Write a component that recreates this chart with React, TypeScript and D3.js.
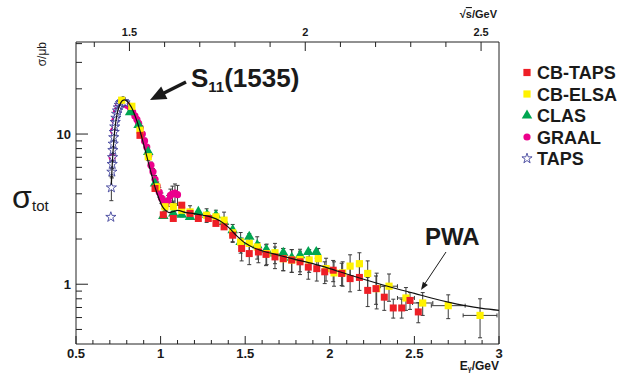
import React from "react";
import * as d3 from "d3";

// ---------------- data ----------------
// PWA curve
const pwaE = [0.709, 0.712, 0.716, 0.72, 0.726, 0.733, 0.742, 0.752, 0.763, 0.775, 0.787, 0.8, 0.815, 0.83, 0.845, 0.86, 0.875, 0.89, 0.905, 0.92, 0.935, 0.95, 0.965, 0.98, 0.995, 1.01, 1.03, 1.05, 1.075, 1.1, 1.15, 1.2, 1.25, 1.3, 1.35, 1.4, 1.45, 1.5, 1.55, 1.6, 1.7, 1.8, 1.9, 2.0, 2.1, 2.2, 2.3, 2.4, 2.5, 2.6, 2.7, 2.8, 2.9, 3.0];
const pwaS = [4.6, 5.6, 6.8, 8.0, 9.8, 11.6, 13.4, 14.9, 16.0, 16.7, 16.9, 16.6, 15.9, 14.9, 13.6, 12.2, 10.8, 9.4, 8.1, 7.0, 6.0, 5.2, 4.5, 4.0, 3.6, 3.3, 3.1, 3.0, 3.05, 3.1, 3.0, 2.95, 2.88, 2.8, 2.65, 2.4, 2.1, 1.88, 1.75, 1.67, 1.56, 1.46, 1.37, 1.27, 1.17, 1.08, 1.0, 0.93, 0.87, 0.81, 0.76, 0.72, 0.69, 0.67];

// TAPS (stars)
const tapsE = [0.706, 0.709, 0.712, 0.714, 0.716, 0.718, 0.72, 0.723, 0.726, 0.729, 0.732, 0.736, 0.74, 0.745, 0.75, 0.756, 0.762, 0.768, 0.775, 0.782, 0.79];
const tapsS = [2.8, 4.4, 5.6, 6.3, 7.0, 7.8, 8.6, 9.5, 10.3, 11.2, 12.0, 12.8, 13.6, 14.3, 15.0, 15.6, 16.0, 16.3, 16.5, 16.5, 16.2];
const tapsErr = [0, 0.8, 0.5, 0.4, 0.4, 0.4, 0.4, 0.4, 0.4, 0.4, 0.4, 0.4, 0.4, 0.4, 0.4, 0.4, 0.4, 0.4, 0.4, 0.4, 0.4];

// GRAAL (circles)
const graalE = [0.714, 0.722, 0.73, 0.74, 0.75, 0.762, 0.775, 0.79, 0.805, 0.82, 0.835, 0.848, 0.86, 0.87, 0.88, 0.892, 0.905, 0.918, 0.93, 0.943, 0.955, 0.967, 0.98, 0.992, 1.005, 1.018, 1.03, 1.045, 1.058, 1.07, 1.085, 1.1];
const graalS = [7.0, 10.5, 12.3, 14.2, 15.3, 16.0, 16.0, 15.8, 15.5, 15.0, 14.0, 13.2, 12.5, 11.8, 11.0, 10.0, 9.0, 8.2, 7.2, 6.2, 5.6, 5.0, 4.5, 4.1, 3.75, 3.5, 3.4, 3.6, 3.9, 4.0, 4.05, 3.95];
const graalErr = [0.4, 0.5, 0.5, 0.5, 0.5, 0.5, 0.5, 0.5, 0.5, 0.5, 0.5, 0.5, 0.5, 0.4, 0.4, 0.4, 0.4, 0.3, 0.3, 0.3, 0.3, 0.3, 0.3, 0.3, 0.3, 0.3, 0.3, 0.3, 0.4, 0.5, 0.6, 0.6];

// CLAS (triangles)
const clasE = [0.82, 0.87, 0.927, 0.967, 1.016, 1.075, 1.125, 1.174, 1.223, 1.275, 1.327, 1.375, 1.426, 1.473, 1.524, 1.571, 1.625, 1.676, 1.725, 1.775, 1.824, 1.873, 1.92];
const clasS = [14.0, 11.5, 7.6, 4.68, 2.85, 2.96, 2.9, 2.81, 3.03, 2.9, 2.88, 2.6, 2.29, 1.91, 2.07, 1.82, 1.7, 1.6, 1.62, 1.5, 1.56, 1.64, 1.64];

// CB-ELSA (yellow squares)
const elsaE = [0.77, 0.83, 0.878, 0.927, 0.977, 1.026, 1.075, 1.125, 1.174, 1.272, 1.327, 1.375, 1.426, 1.473, 1.524, 1.571, 1.627, 1.676, 1.725, 1.775, 1.824, 1.878, 1.932, 1.978, 2.025, 2.076, 2.12, 2.175, 2.224, 2.277, 2.35, 2.45, 2.549, 2.7, 2.888];
const elsaS = [16.8, 15.3, 10.6, 7.06, 4.45, 3.28, 3.28, 3.11, 3.03, 2.88, 2.81, 2.67, 2.2, 1.91, 1.87, 1.77, 1.6, 1.62, 1.48, 1.45, 1.46, 1.45, 1.48, 1.27, 1.19, 1.19, 1.32, 1.37, 1.18, 0.935, 0.97, 0.81, 0.75, 0.72, 0.62];
const elsaErr = [0.6, 0.6, 0.5, 0.4, 0.3, 0.25, 0.3, 0.3, 0.3, 0.3, 0.3, 0.35, 0.3, 0.3, 0.3, 0.3, 0.25, 0.25, 0.25, 0.25, 0.25, 0.25, 0.25, 0.22, 0.22, 0.22, 0.25, 0.25, 0.25, 0.25, 0.2, 0.14, 0.13, 0.13, 0.18];
const elsaEw = [0, 0, 0, 0, 0, 0, 0, 0, 0, 0, 0, 0, 0, 0, 0, 0, 0.02, 0, 0, 0, 0, 0, 0, 0, 0, 0, 0, 0, 0, 0, 0.05, 0.05, 0.06, 0.1, 0.1];

// CB-TAPS (red squares)
const cbtE = [0.878, 0.967, 1.016, 1.075, 1.125, 1.174, 1.223, 1.282, 1.327, 1.375, 1.426, 1.479, 1.524, 1.578, 1.623, 1.676, 1.725, 1.775, 1.824, 1.873, 1.923, 1.97, 2.02, 2.07, 2.12, 2.175, 2.224, 2.273, 2.322, 2.375, 2.425, 2.474, 2.523];
const cbtS = [9.8, 4.34, 2.9, 2.74, 3.36, 2.96, 2.74, 2.74, 2.54, 2.41, 2.12, 1.73, 1.6, 1.64, 1.58, 1.52, 1.48, 1.45, 1.41, 1.3, 1.27, 1.21, 1.24, 1.18, 1.09, 1.11, 0.91, 0.935, 0.82, 0.695, 0.695, 0.78, 0.654];
const cbtErr = [0, 0, 0, 0, 0, 0, 0, 0, 0, 0, 0.2, 0.3, 0.25, 0.25, 0.25, 0.25, 0.25, 0.25, 0.25, 0.22, 0.22, 0.2, 0.2, 0.2, 0.2, 0.2, 0.2, 0.2, 0.15, 0.1, 0.1, 0.1, 0.1];

// axes / labels
const bottomTickLabels = ["0.5", "1", "1.5", "2", "2.5", "3"];
const topTickLabels = ["1.5", "2", "2.5"];
const leftTickLabels = ["1", "10"];
const legendNames = ["CB-TAPS", "CB-ELSA", "CLAS", "GRAAL", "TAPS"];

// ---------------- styles ----------------
const FONT = "'Liberation Sans', Arial, Helvetica, sans-serif";
const RED = "#ee1f26";
const YEL = "#fff200";
const GRN = "#00a651";
const MAG = "#ec008c";
const NAVY = "#2e3192";
const ERRC = "#3a3a3a";

const L = 76, R = 499, T = 42, B = 344;

export default function App() {
  const x = d3.scaleLinear().domain([0.5, 3]).range([L, R]);
  const y = d3.scaleLog().domain([0.4, 41]).range([B, T]);
  const xt = d3.scaleLinear().domain([1.348, 2.551]).range([L, R]);

  const line = d3
    .line<number>()
    .x((_, i) => x(pwaE[i]))
    .y((_, i) => y(pwaS[i]))
    .curve(d3.curveMonotoneX);

  const star = d3.symbol().type(d3.symbolStar).size(32)() as string;
  const tri = d3.symbol().type(d3.symbolTriangle).size(48)() as string;

  // ticks
  const bottomTicks: { v: number; major: boolean }[] = [];
  for (let i = 5; i <= 30; i++) bottomTicks.push({ v: i / 10, major: i % 5 === 0 });
  const topTicks: { v: number; major: boolean }[] = [];
  for (let i = 14; i <= 25; i++) topTicks.push({ v: i / 10, major: i % 5 === 0 });
  const leftTicks: { v: number; major: boolean }[] = [];
  [0.1, 1, 10].forEach((d) => {
    for (let k = 1; k <= 9; k++) {
      const v = k * d;
      if (v > 0.41 && v <= 41) leftTicks.push({ v, major: k === 1 });
    }
  });

  const errBars = (E: number[], S: number[], Er: number[], Ew?: number[]) =>
    E.map((e, i) => {
      const cx = x(e);
      const out: JSX.Element[] = [];
      if (Er[i] > 0) {
        const y1 = y(S[i] + Er[i]);
        const y2 = y(Math.max(S[i] - Er[i], 0.3));
        out.push(<line key={"v" + i} x1={cx} x2={cx} y1={y1} y2={y2} />);
        out.push(<line key={"a" + i} x1={cx - 2} x2={cx + 2} y1={y1} y2={y1} />);
        out.push(<line key={"b" + i} x1={cx - 2} x2={cx + 2} y1={y2} y2={y2} />);
      }
      if (Ew && Ew[i] > 0) {
        const cy = y(S[i]);
        const x1 = x(e - Ew[i]);
        const x2 = x(e + Ew[i]);
        out.push(<line key={"h" + i} x1={x1} x2={x2} y1={cy} y2={cy} />);
        out.push(<line key={"c" + i} x1={x1} x2={x1} y1={cy - 2} y2={cy + 2} />);
        out.push(<line key={"d" + i} x1={x2} x2={x2} y1={cy - 2} y2={cy + 2} />);
      }
      return <g key={i}>{out}</g>;
    });

  // arrow helper
  const arrowHead = (tx: number, ty: number, fx: number, fy: number, len: number, w: number) => {
    const dx = tx - fx, dy = ty - fy;
    const d = Math.hypot(dx, dy);
    const ux = dx / d, uy = dy / d;
    const bx = tx - ux * len, by = ty - uy * len;
    const px = -uy * w / 2, py = ux * w / 2;
    return `M${tx},${ty}L${bx + px},${by + py}L${bx - px},${by - py}Z`;
  };

  const legendY = [72.5, 94, 115.5, 137, 158.5];

  return (
    <svg width={631} height={373} style={{ position: "absolute", left: 0, top: 0, background: "#fff" }} fontFamily={FONT}>
      <defs>
        <clipPath id="frame">
          <rect x={L} y={T} width={R - L} height={B - T} />
        </clipPath>
      </defs>
      <rect x={0} y={0} width={631} height={373} fill="#fff" />

      {/* error bars */}
      <g clipPath="url(#frame)" stroke={ERRC} strokeWidth={1}>
        {errBars(tapsE, tapsS, tapsErr)}
        {errBars(graalE, graalS, graalErr)}
        {errBars(elsaE, elsaS, elsaErr, elsaEw)}
        {errBars(cbtE, cbtS, cbtErr)}
      </g>

      {/* markers */}
      <g clipPath="url(#frame)">
        {graalE.map((e, i) => (
          <circle key={"g" + i} cx={x(e)} cy={y(graalS[i])} r={3.6} fill={MAG} />
        ))}
        {tapsE.map((e, i) => (
          <path key={"t" + i} d={star} transform={`translate(${x(e)},${y(tapsS[i])})`} fill="#fff" stroke={NAVY} strokeWidth={0.8} />
        ))}
        {clasE.map((e, i) => (
          <path key={"c" + i} d={tri} transform={`translate(${x(e)},${y(clasS[i])})`} fill={GRN} />
        ))}
        {elsaE.map((e, i) => (
          <rect key={"e" + i} x={x(e) - 3.6} y={y(elsaS[i]) - 3.6} width={7.2} height={7.2} fill={YEL} />
        ))}
        {cbtE.map((e, i) => (
          <rect key={"r" + i} x={x(e) - 3.5} y={y(cbtS[i]) - 3.5} width={7} height={7} fill={RED} />
        ))}
      </g>

      {/* PWA curve */}
      <path d={line(pwaE) || ""} fill="none" stroke="#111" strokeWidth={1.2} clipPath="url(#frame)" />

      {/* frame */}
      <g stroke="#222" strokeWidth={1} fill="none">
        <line x1={L} x2={R} y1={B} y2={B} />
        <line x1={L} x2={R} y1={T} y2={T} />
        <line x1={L} x2={L} y1={T} y2={B} />
        <line x1={R} x2={R} y1={T} y2={B} />
        {bottomTicks.map((t, i) => (
          <line key={"bt" + i} x1={x(t.v)} x2={x(t.v)} y1={B} y2={B - (t.major ? 8 : 4)} />
        ))}
        {topTicks.map((t, i) => (
          <line key={"tt" + i} x1={xt(t.v)} x2={xt(t.v)} y1={T} y2={T + (t.major ? 9 : 5)} />
        ))}
        {leftTicks.map((t, i) => (
          <line key={"lt" + i} x1={L} x2={L + (t.major ? 12 : 6)} y1={y(t.v)} y2={y(t.v)} />
        ))}
      </g>

      {/* tick labels */}
      <g fontWeight="bold" fontSize={13} fill="#1a1a1a">
        {bottomTickLabels.map((s) => (
          <text key={s} x={x(+s)} y={357.5} textAnchor="middle">{s}</text>
        ))}
        {leftTickLabels.map((s) => (
          <text key={s} x={71} y={y(+s) + 4.6} textAnchor="end">{s}</text>
        ))}
      </g>
      <g fontWeight="bold" fontSize={11} fill="#1a1a1a">
        {topTickLabels.map((s) => (
          <text key={s} x={xt(+s)} y={36} textAnchor="middle">{s}</text>
        ))}
        <text x={497} y={18} textAnchor="end">
          √<tspan textDecoration="overline">s</tspan>/GeV
        </text>
      </g>

      {/* axis titles */}
      <text x={499} y={369.5} textAnchor="end" fontWeight="bold" fontSize={12} fill="#1a1a1a">
        E<tspan fontSize={7} dy={1}>γ</tspan><tspan dy={-1}>/GeV</tspan>
      </text>
      <text transform="translate(46,42) rotate(-90)" textAnchor="end" fontSize={12} fill="#1a1a1a">σ/μb</text>
      <text x={12} y={208} fontSize={32} fill="#1a1a1a">σ</text>
      <text x={32} y={211} fontSize={15} fill="#1a1a1a">tot</text>

      {/* S11 annotation */}
      <text x={191} y={87} fontWeight="bold" fontSize={26} fill="#1a1a1a">
        S<tspan fontSize={15} dy={5}>11</tspan><tspan dy={-5}>(1535)</tspan>
      </text>
      <line x1={186} y1={82} x2={160} y2={95} stroke="#1a1a1a" strokeWidth={3.5} />
      <path d={arrowHead(150, 100, 186, 82, 16, 14)} fill="#1a1a1a" />

      {/* PWA annotation */}
      <text x={425} y={245} fontWeight="bold" fontSize={24} fill="#1a1a1a">PWA</text>
      <line x1={446} y1={252} x2={424} y2={285} stroke="#1a1a1a" strokeWidth={1} />
      <path d={arrowHead(421, 290, 446, 252, 8, 6)} fill="#1a1a1a" />

      {/* legend */}
      <g>
        <rect x={527 - 3.6} y={legendY[0] - 3.6} width={7.2} height={7.2} fill={RED} />
        <rect x={527 - 3.6} y={legendY[1] - 3.6} width={7.2} height={7.2} fill={YEL} />
        <path d={tri} transform={`translate(527,${legendY[2]})`} fill={GRN} />
        <circle cx={527} cy={legendY[3]} r={3.6} fill={MAG} />
        <path d={star} transform={`translate(527,${legendY[4]})`} fill="#fff" stroke={NAVY} strokeWidth={0.8} />
        {legendNames.map((n, i) => (
          <text key={n} x={537} y={legendY[i] + 6.6} fontWeight="bold" fontSize={18} fill="#1a1a1a">{n}</text>
        ))}
      </g>
    </svg>
  );
}
